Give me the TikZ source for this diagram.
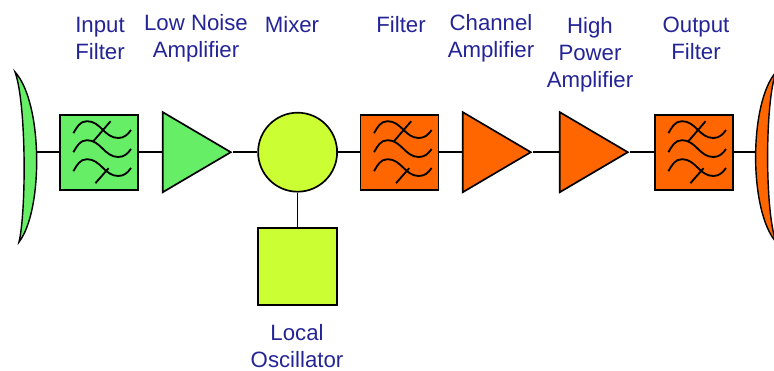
\documentclass[tikz,border=0pt]{standalone}
\usepackage{fontspec}
\setmainfont{Liberation Sans}
\usetikzlibrary{shapes.geometric}

\definecolor{rxgreen}{RGB}{102,238,102}
\definecolor{loyellow}{RGB}{204,255,51}
\definecolor{txorange}{RGB}{255,102,0}
\definecolor{labelblue}{RGB}{36,36,150}

\tikzset{
  blk/.style={draw=black, line width=1.2pt},
  filterbox/.style={blk, rectangle, minimum width=1.95cm, minimum height=1.875cm, inner sep=0pt},
  ampbox/.style={blk, isosceles triangle, isosceles triangle stretches, minimum height=1.7cm, minimum width=2.0cm, inner sep=0pt},
  wire/.style={line width=1.2pt},
  lbl/.style={text=labelblue, align=center, font=\fontsize{15.8}{19.2}\selectfont},
}

% three wavy curves of a filter, drawn over the box #1
\newcommand{\filterwaves}[1]{%
  \begin{scope}[shift={(#1.center)}, line width=1.3pt]
    \foreach \c in {0.475,0,-0.475}
      \draw (-0.64,\c) to[out=60,in=180] (-0.3,\c+0.3) to[out=0,in=180] (0.48,\c-0.12) to[out=0,in=235] (0.8,\c+0.08);
    \draw (-0.14,0.275) -- (0.29,0.775);
    \draw (-0.09,-0.775) -- (0.24,-0.4);
  \end{scope}}

\begin{document}
\begin{tikzpicture}
            \useasboundingbox (0,0) rectangle (19.35,9.275);

            % antennas
            \filldraw[fill=rxgreen, line width=1pt] (0.375,7.475) .. controls (1.08,6.7) and (1.08,4.0) .. (0.475,3.225) .. controls (0.66,4.0) and (0.66,6.7) .. (0.375,7.475) -- cycle;
            \filldraw[fill=txorange, line width=1pt] (19.4,7.475) .. controls (18.72,6.7) and (18.72,4.0) .. (19.4,3.225) .. controls (19.12,4.0) and (19.12,6.7) .. (19.4,7.475) -- cycle;
            \coordinate (dishL) at (0.9,5.47);
            \coordinate (dishR) at (18.9,5.47);

            % blocks
            \node[filterbox, fill=rxgreen] (infilt) at (2.475,5.47) {};
            \node[ampbox, fill=rxgreen, anchor=apex] (lna) at (5.825,5.47) {};
            \node[circle, blk, fill=loyellow, minimum size=1.975cm, inner sep=0pt] (mixer) at (7.44,5.47) {};
            \node[rectangle, blk, fill=loyellow, minimum width=1.975cm, minimum height=1.925cm, inner sep=0pt] (lo) at (7.44,2.61) {};
            \node[filterbox, fill=txorange] (filt) at (9.99,5.47) {};
            \node[ampbox, fill=txorange, anchor=apex] (champ) at (13.325,5.47) {};
            \node[ampbox, fill=txorange, anchor=apex] (hpa) at (15.75,5.47) {};
            \node[filterbox, fill=txorange] (outfilt) at (17.35,5.47) {};

            \filterwaves{infilt}
            \filterwaves{filt}
            \filterwaves{outfilt}

            % connectors
            \draw[wire] (dishL) -- (infilt);
            \draw[wire] (infilt) -- (lna);
            \draw[wire] (lna) -- (mixer);
            \draw[wire] (mixer) -- (lo);
            \draw[wire] (mixer) -- (filt);
            \draw[wire] (filt) -- (champ);
            \draw[wire] (champ) -- (hpa);
            \draw[wire] (hpa) -- (outfilt);
            \draw[wire] (outfilt) -- (dishR);

            % labels
            \node[lbl] (infiltlbl) at (2.5,8.31) {Input\\Filter};
            \node[lbl] (lnalbl) at (4.9,8.31) {Low Noise\\Amplifier};
            \node[lbl] (mixerlbl) at (7.3,8.65) {Mixer};
            \node[lbl] (filtlbl) at (10.025,8.65) {Filter};
            \node[lbl] (champlbl) at (12.275,8.31) {Channel\\Amplifier};
            \node[lbl] (hpalbl) at (14.75,7.9) {High\\Power\\Amplifier};
            \node[lbl] (outfiltlbl) at (17.4,8.31) {Output\\Filter};
            \node[lbl] (lolbl) at (7.425,0.6125) {Local\\Oscillator};
        \end{tikzpicture}
\end{document}
